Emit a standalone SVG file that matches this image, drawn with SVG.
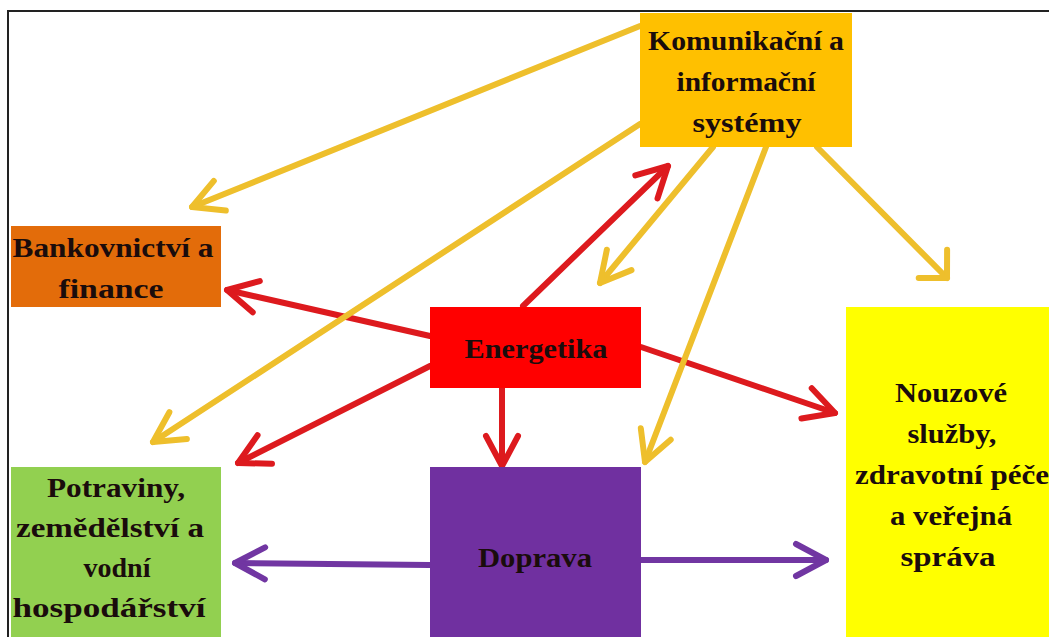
<svg xmlns="http://www.w3.org/2000/svg" width="1049" height="637" viewBox="0 0 1049 637">
<style>
.t{font-family:"Liberation Serif","Times New Roman",serif;font-weight:bold;font-size:28px;fill:#1a0c0c;text-anchor:middle}
.y{stroke:#EEBF2C;stroke-width:6;fill:none;stroke-linecap:round}
.r{stroke:#DD1A1E;stroke-width:6;fill:none;stroke-linecap:round}
.p{stroke:#7136A2;stroke-width:6;fill:none;stroke-linecap:round}
</style>
<defs>
<marker id="my" markerUnits="userSpaceOnUse" viewBox="-36 -22 40 44" refX="0" refY="0" markerWidth="40" markerHeight="44" orient="auto"><path d="M-30,-16 L0,0 L-30,16" fill="none" stroke="#EEBF2C" stroke-width="6" stroke-linejoin="round" stroke-linecap="round"/></marker>
<marker id="my2" markerUnits="userSpaceOnUse" viewBox="-36 -26 40 52" refX="0" refY="0" markerWidth="40" markerHeight="52" orient="auto"><path d="M-20,-20 L0,0 L-20,20" fill="none" stroke="#EEBF2C" stroke-width="6" stroke-linejoin="round" stroke-linecap="round"/></marker>
<marker id="mr" markerUnits="userSpaceOnUse" viewBox="-36 -22 40 44" refX="0" refY="0" markerWidth="40" markerHeight="44" orient="auto"><path d="M-30,-16 L0,0 L-30,16" fill="none" stroke="#DD1A1E" stroke-width="6" stroke-linejoin="round" stroke-linecap="round"/></marker>
<marker id="mp" markerUnits="userSpaceOnUse" viewBox="-36 -22 40 44" refX="0" refY="0" markerWidth="40" markerHeight="44" orient="auto"><path d="M-30,-16 L0,0 L-30,16" fill="none" stroke="#7136A2" stroke-width="6" stroke-linejoin="round" stroke-linecap="round"/></marker>
</defs>
<rect x="0" y="0" width="1049" height="637" fill="#ffffff"/>
<rect id="frame" x="8" y="11" width="1100" height="700" fill="none" stroke="#222" stroke-width="2"/>
<g id="connectors">
<line class="r" x1="523" y1="306" x2="668" y2="166" marker-end="url(#mr)"/>
<line class="r" x1="430" y1="336" x2="227" y2="290" marker-end="url(#mr)"/>
<line class="r" x1="430" y1="366" x2="238" y2="463" marker-end="url(#mr)"/>
<line class="r" x1="502" y1="388" x2="502" y2="466" marker-end="url(#mr)"/>
<line class="r" x1="641" y1="347" x2="835" y2="413" marker-end="url(#mr)"/>
<line class="y" x1="640" y1="26" x2="192" y2="207" marker-end="url(#my)"/>
<line class="y" x1="640" y1="124" x2="153" y2="442" marker-end="url(#my)"/>
<line class="y" x1="713" y1="147" x2="600" y2="283" marker-end="url(#my)"/>
<line class="y" x1="766" y1="147" x2="645" y2="462" marker-end="url(#my)"/>
<line class="y" x1="817" y1="147" x2="947" y2="278" marker-end="url(#my2)"/>
<line class="p" x1="430" y1="565" x2="235" y2="563" marker-end="url(#mp)"/>
<line class="p" x1="641" y1="560" x2="826" y2="560" marker-end="url(#mp)"/>
</g>
<g id="komunikacni">
<rect x="640" y="13" width="212" height="134" fill="#FFC000"/>
<text class="t" x="746" y="50" textLength="196" lengthAdjust="spacingAndGlyphs">Komunikační a</text>
<text class="t" x="746" y="91" textLength="139" lengthAdjust="spacingAndGlyphs">informační</text>
<text class="t" x="747" y="132" textLength="109" lengthAdjust="spacingAndGlyphs">systémy</text>
</g>
<g id="bankovnictvi">
<rect x="11" y="226" width="210" height="81" fill="#E36C0A"/>
<text class="t" x="113" y="257" textLength="201" lengthAdjust="spacingAndGlyphs">Bankovnictví a</text>
<text class="t" x="111" y="298" textLength="105" lengthAdjust="spacingAndGlyphs">finance</text>
</g>
<g id="energetika">
<rect x="430" y="307" width="211" height="81" fill="#FF0000"/>
<text class="t" x="536" y="358" textLength="143" lengthAdjust="spacingAndGlyphs">Energetika</text>
</g>
<g id="potraviny">
<rect x="11" y="467" width="210" height="180" fill="#92D050"/>
<text class="t" x="116" y="497" textLength="138" lengthAdjust="spacingAndGlyphs">Potraviny,</text>
<text class="t" x="110" y="537" textLength="188" lengthAdjust="spacingAndGlyphs">zemědělství a</text>
<text class="t" x="117" y="577" textLength="67" lengthAdjust="spacingAndGlyphs">vodní</text>
<text class="t" x="109" y="617" textLength="193" lengthAdjust="spacingAndGlyphs">hospodářství</text>
</g>
<g id="doprava">
<rect x="430" y="467" width="211" height="180" fill="#7030A0"/>
<text class="t" x="535" y="567" textLength="114" lengthAdjust="spacingAndGlyphs">Doprava</text>
</g>
<g id="nouzove">
<rect x="846" y="307" width="210" height="340" fill="#FFFF00"/>
<text class="t" x="951" y="402" textLength="112" lengthAdjust="spacingAndGlyphs">Nouzové</text>
<text class="t" x="952" y="443" textLength="89" lengthAdjust="spacingAndGlyphs">služby,</text>
<text class="t" x="952" y="484" textLength="194" lengthAdjust="spacingAndGlyphs">zdravotní péče</text>
<text class="t" x="951" y="525" textLength="122" lengthAdjust="spacingAndGlyphs">a veřejná</text>
<text class="t" x="948" y="566" textLength="95" lengthAdjust="spacingAndGlyphs">správa</text>
</g>
</svg>
